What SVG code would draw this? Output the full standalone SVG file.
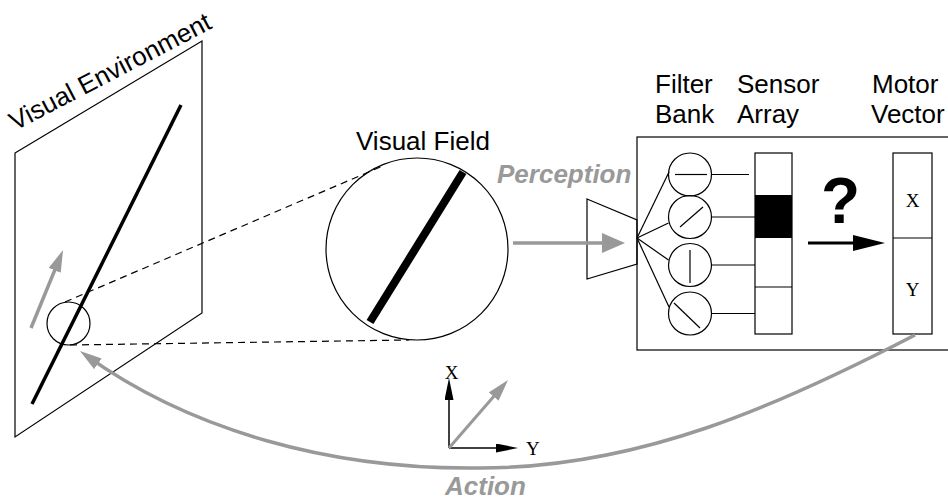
<svg xmlns="http://www.w3.org/2000/svg" width="948" height="501" viewBox="0 0 948 501">
<style>
.thin{fill:none;stroke:#000;stroke-width:1.2}
.dash{fill:none;stroke:#000;stroke-width:1.2;stroke-dasharray:7 5}
.sans{font-family:"Liberation Sans",Arial,sans-serif;font-size:26px;fill:#000}
.gbi{font-family:"Liberation Sans",Arial,sans-serif;font-size:26px;font-weight:bold;font-style:italic;fill:#999}
.serif{font-family:"Liberation Serif","Times New Roman",serif;font-size:19px;fill:#000}
.garrow{fill:none;stroke:#999;stroke-width:3.5}
</style>
<defs>
<marker id="ag" markerUnits="userSpaceOnUse" markerWidth="22" markerHeight="13" viewBox="0 0 22 13" refX="14" refY="6.5" orient="auto"><path d="M0,0 L22,6.5 L0,13 z" fill="#999"/></marker>
<marker id="agb" markerUnits="userSpaceOnUse" markerWidth="23" markerHeight="20" viewBox="0 0 23 20" refX="15" refY="10" orient="auto"><path d="M0,0 L23,10 L0,20 z" fill="#999"/></marker>
<marker id="akb" markerUnits="userSpaceOnUse" markerWidth="32" markerHeight="16" viewBox="0 0 32 16" refX="24" refY="8" orient="auto"><path d="M0,0 L32,8 L0,16 z" fill="#000"/></marker>
<marker id="aks" markerUnits="userSpaceOnUse" markerWidth="22" markerHeight="9" viewBox="0 0 22 9" refX="17" refY="4.5" orient="auto"><path d="M0,0 L22,4.5 L0,9 z" fill="#000"/></marker>
</defs>

<g id="environment">
<polygon class="thin" points="15,153 202,41 202,313 15,437"/>
<line x1="181" y1="105" x2="32" y2="404" stroke="#000" stroke-width="3.5"/>
<circle class="thin" cx="68.5" cy="323.5" r="21.5"/>
<text class="sans" transform="translate(15,131) rotate(-27.5)">Visual Environment</text>
</g>

<g id="visual-field">
<circle class="thin" cx="417" cy="249" r="91"/>
<line x1="463" y1="172" x2="370" y2="322" stroke="#000" stroke-width="8"/>
<text class="sans" x="356" y="150">Visual Field</text>
</g>

<g id="lens">
<polygon class="thin" points="587,199 637,220 637,264 587,279"/>
</g>

<g id="network">
<rect class="thin" x="637" y="137" width="320" height="213"/>
</g>

<g id="filter-bank">
<text class="sans" x="655" y="93">Filter</text>
<text class="sans" x="655" y="123">Bank</text>
<circle class="thin" cx="690" cy="174.5" r="21.5"/>
<line class="thin" x1="675" y1="174.5" x2="707" y2="174.5"/>
<circle class="thin" cx="690" cy="217" r="21.5"/>
<line class="thin" x1="680" y1="227" x2="703" y2="207"/>
<circle class="thin" cx="690" cy="265" r="21.5"/>
<line class="thin" x1="690" y1="250" x2="690" y2="283"/>
<circle class="thin" cx="690" cy="313.5" r="21.5"/>
<line class="thin" x1="674" y1="303" x2="700" y2="328"/>
</g>

<g id="sensor-array">
<text class="sans" x="737" y="93">Sensor</text>
<text class="sans" x="737" y="123">Array</text>
<rect class="thin" x="755" y="153" width="37" height="181"/>
<rect x="755" y="195" width="37" height="43" fill="#000"/>
<line class="thin" x1="755" y1="287" x2="792" y2="287"/>
</g>

<g id="motor-vector">
<text class="sans" x="872" y="93">Motor</text>
<text class="sans" x="871" y="123">Vector</text>
<rect class="thin" x="893" y="153" width="39" height="181"/>
<line class="thin" x1="893" y1="238" x2="932" y2="238"/>
<text class="serif" x="912.5" y="207" text-anchor="middle">X</text>
<text class="serif" x="912.5" y="296" text-anchor="middle">Y</text>
</g>

<g id="question">
<text x="821" y="223" font-family="'Liberation Sans',Arial,sans-serif" font-size="64" font-weight="bold" fill="#000">?</text>
</g>

<g id="axes">
<line x1="449" y1="448" x2="449" y2="383" stroke="#000" stroke-width="1.5" marker-end="url(#aks)"/>
<line x1="449" y1="448" x2="513" y2="448" stroke="#000" stroke-width="1.5" marker-end="url(#aks)"/>
<line x1="449" y1="448" x2="502.8" y2="386" stroke="#999" stroke-width="3" marker-end="url(#ag)"/>
<text class="serif" x="451.5" y="379" text-anchor="middle" font-size="18">X</text>
<text class="serif" x="526" y="455" font-size="18">Y</text>
</g>

<g id="connectors">
<line class="dash" x1="65" y1="302" x2="385" y2="165"/>
<line class="dash" x1="70" y1="345" x2="409" y2="340"/>
<line class="garrow" x1="31" y1="328" x2="60" y2="257.4" stroke-width="3" marker-end="url(#ag)"/>
<line class="garrow" x1="513" y1="243" x2="617" y2="243" stroke-width="3" marker-end="url(#agb)"/>
<line class="thin" x1="637" y1="238" x2="669" y2="172"/>
<line class="thin" x1="637" y1="238" x2="668.5" y2="223"/>
<line class="thin" x1="637" y1="238" x2="668.5" y2="260"/>
<line class="thin" x1="637" y1="238" x2="669" y2="307"/>
<line class="thin" x1="711.5" y1="174.5" x2="749" y2="174.5"/>
<line class="thin" x1="711.5" y1="217" x2="755" y2="217" stroke="#555"/>
<line class="thin" x1="711.5" y1="265" x2="755" y2="265"/>
<line class="thin" x1="711.5" y1="313.5" x2="755" y2="313.5"/>
<line x1="808" y1="243" x2="877" y2="243" stroke="#000" stroke-width="3" marker-end="url(#akb)"/>
<path class="garrow" d="M915,335 C780,405 640,468 480,468 C330,470 190,430 86.5,355.7" marker-end="url(#ag)"/>
</g>

<text class="gbi" x="497" y="183">Perception</text>
<text class="gbi" x="445" y="495" font-size="24">Action</text>
</svg>
